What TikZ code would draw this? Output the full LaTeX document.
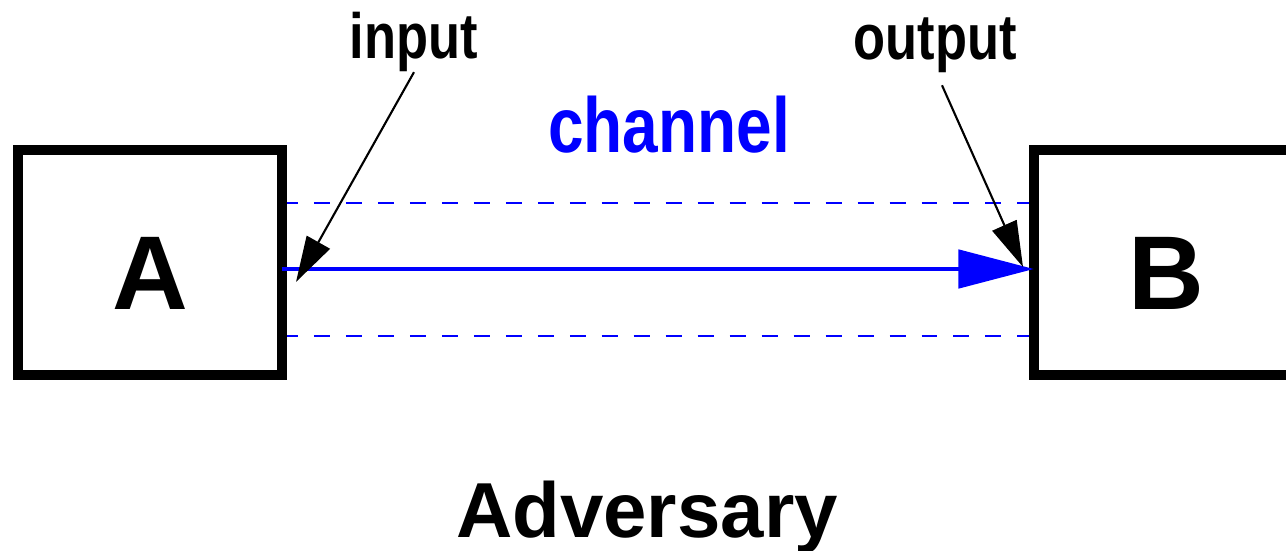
\documentclass[tikz,border=0pt]{standalone}
\usepackage{fontspec}
\setmainfont{Liberation Sans}
\newfontfamily\narrowsans[FakeStretch=0.82]{Liberation Sans}
\usetikzlibrary{arrows.meta}
\begin{document}
\begin{tikzpicture}[x=0.02cm,y=-0.02cm,
  party/.style={draw, line width=5.7pt, minimum width=5.28cm, minimum height=4.5cm,
    inner sep=0pt, outer sep=0pt},
  letter/.style={anchor=base, inner sep=0pt, font=\fontsize{59.7}{60}\selectfont\bfseries},
  tag/.style={anchor=base, inner sep=0pt, outer sep=0pt,
    font=\narrowsans\fontsize{36.4}{37}\selectfont\bfseries},
  chantag/.style={anchor=base, inner sep=0pt, text=blue,
    font=\narrowsans\fontsize{44.4}{45}\selectfont\bfseries},
  advtag/.style={anchor=base, inner sep=0pt, font=\fontsize{44.4}{45}\selectfont\bfseries},
  pointer/.style={line width=1.2pt, -{Triangle[length=26pt,width=15pt]}},
  flow/.style={blue, line width=2.8pt, -{Triangle[length=43pt,width=21.6pt]}},
  rail/.style={blue, line width=1.14pt, dash pattern=on 9.1pt off 9.1pt}]
  \clip (0,0) rectangle (1286,551);

  % the two parties
  \path (150,262.5) node[party] (A) {};
  \path (1166,262.5) node[party] (B) {};

  % channel borders
  \draw[rail] ([yshift=33.9pt]A.east) -- ([yshift=33.9pt]B.west);
  \draw[rail] ([yshift=-41.8pt]A.east) -- ([yshift=-41.8pt]B.west);

  % redraw boxes over the rail ends
  \draw[line width=5.7pt] (A.south west) rectangle (A.north east);
  \draw[line width=5.7pt] (B.south west) rectangle (B.north east);

  \node[letter] (Alet) at ([yshift=-26.7pt]A.center) {A};
  \node[letter] (Blet) at ([yshift=-26.7pt]B.center) {B};

  % message flow
  \draw[flow] ([yshift=-3.7pt]A.east) -- ([yshift=-3.7pt]B.west);

  % labels
  \node[tag] (input) at (414,58) {input};
  \node[tag] (output) at (935,59) {output};
  \node[chantag] (channel) at (669,152) {channel};
  \node[advtag] (adv) at (647,537) {Adversary};

  \coordinate (inTip) at (296,282);
  \coordinate (outTip) at (1023,267);
  \draw[pointer] ([yshift=-0.5pt]input.south) -- (inTip);
  \draw[pointer] ([shift={(7,13)}]output.south) -- (outTip);
\end{tikzpicture}
\end{document}
